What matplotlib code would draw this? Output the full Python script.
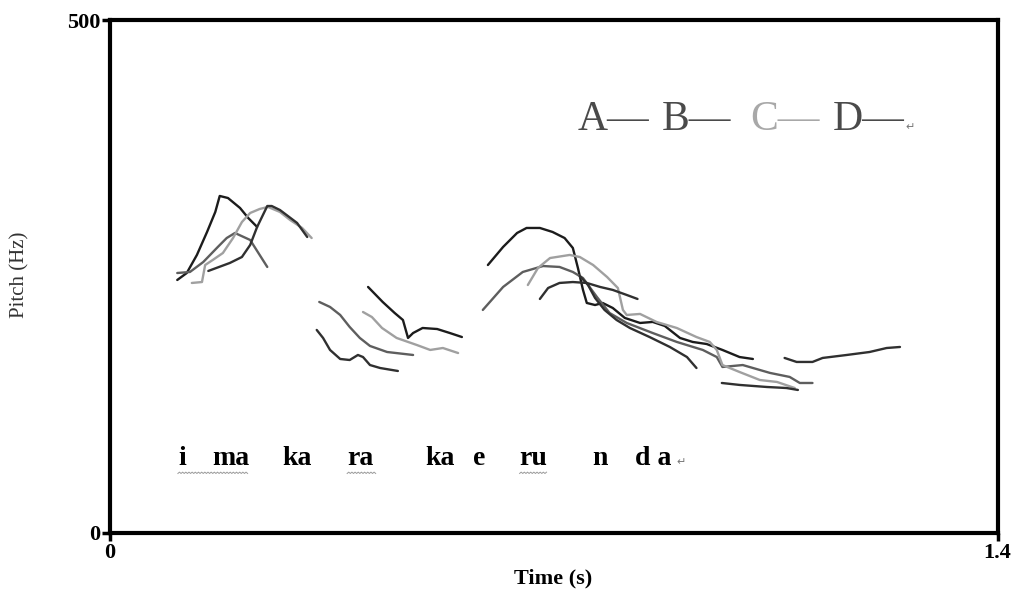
import numpy as np
import matplotlib.pyplot as plt

# pitch tracks, one list of segments per speaker (time in s, pitch in Hz)
a_times = [
    [0.106, 0.121, 0.137, 0.153, 0.166, 0.173, 0.186, 0.205, 0.218, 0.232],
    [0.407, 0.430, 0.449, 0.462, 0.470, 0.478, 0.493, 0.516, 0.536, 0.555],
    [0.596, 0.620, 0.642, 0.657, 0.678, 0.698, 0.717, 0.730, 0.738, 0.746, 0.752,
     0.765, 0.777, 0.793, 0.812, 0.836, 0.856, 0.875, 0.899, 0.919, 0.941, 0.966,
     0.993, 1.014],
]
a_pitch = [
    [246.6, 253.4, 271.0, 293.4, 312.9, 328.5, 326.5, 316.8, 307.0, 298.3],
    [239.8, 225.2, 214.4, 207.6, 190.1, 194.9, 199.8, 198.8, 194.9, 191.0],
    [261.2, 278.8, 292.4, 297.3, 297.3, 293.4, 287.5, 277.8, 258.3, 236.9, 224.2,
     222.2, 224.2, 219.3, 209.6, 204.7, 205.7, 201.8, 190.1, 186.2, 184.2, 178.4,
     171.5, 169.6],
]

b_times = [
    [0.106, 0.126, 0.147, 0.170, 0.184, 0.197, 0.221, 0.233, 0.248],
    [0.330, 0.347, 0.363, 0.378, 0.394, 0.410, 0.437, 0.478],
    [0.588, 0.620, 0.651, 0.683, 0.709, 0.730, 0.746, 0.768, 0.788, 0.815, 0.856,
     0.894, 0.935, 0.957, 0.966, 0.998, 1.041, 1.072, 1.088, 1.108],
]
b_pitch = [
    [253.4, 254.4, 264.1, 278.8, 287.5, 292.4, 285.6, 273.9, 259.3],
    [225.2, 220.3, 212.5, 200.8, 190.1, 182.3, 176.4, 173.5],
    [217.4, 239.8, 254.4, 260.2, 259.3, 254.4, 248.5, 230.0, 214.4, 204.7, 194.9,
     186.2, 178.4, 171.5, 161.8, 163.7, 156.0, 152.1, 146.2, 146.2],
]

c_times = [
    [0.129, 0.145, 0.150, 0.162, 0.178, 0.194, 0.208, 0.221, 0.236, 0.249, 0.268,
     0.284, 0.303, 0.318],
    [0.399, 0.413, 0.429, 0.452, 0.484, 0.505, 0.525, 0.549],
    [0.659, 0.675, 0.694, 0.725, 0.741, 0.762, 0.784, 0.801, 0.809, 0.815, 0.836,
     0.862, 0.894, 0.925, 0.946, 0.957, 0.966, 0.993, 1.025, 1.052, 1.080],
]
c_pitch = [
    [243.7, 244.6, 261.2, 266.1, 272.9, 287.5, 303.1, 311.9, 315.8, 317.8, 312.9,
     305.1, 297.3, 287.5],
    [215.4, 210.5, 199.8, 190.1, 183.2, 178.4, 180.3, 175.4],
    [241.7, 258.3, 268.0, 271.0, 269.0, 261.2, 249.5, 238.8, 217.4, 212.5, 213.5,
     205.7, 199.8, 191.0, 186.2, 178.4, 163.7, 156.9, 149.1, 147.2, 141.3],
]

d_times = [
    [0.155, 0.189, 0.208, 0.221, 0.232, 0.248, 0.255, 0.268, 0.295, 0.311],
    [0.326, 0.336, 0.347, 0.363, 0.378, 0.391, 0.399, 0.410, 0.426, 0.454],
    [0.678, 0.691, 0.709, 0.730, 0.752, 0.773, 0.793, 0.815, 0.832],
    [0.741, 0.754, 0.765, 0.780, 0.799, 0.820, 0.851, 0.883, 0.910, 0.925],
    [0.965, 0.993, 1.036, 1.067, 1.085],
    [1.064, 1.083, 1.108, 1.124, 1.162, 1.198, 1.225, 1.246],
]
d_pitch = [
    [255.4, 263.2, 269.0, 280.7, 298.3, 318.7, 318.7, 314.8, 302.2, 288.5],
    [197.9, 190.1, 178.4, 169.6, 168.6, 173.5, 171.5, 163.7, 160.8, 157.9],
    [228.1, 238.8, 243.7, 244.6, 243.7, 239.8, 236.9, 232.0, 228.1],
    [250.5, 241.7, 229.1, 217.4, 207.6, 199.8, 191.0, 181.3, 171.5, 160.8],
    [146.2, 144.3, 142.3, 141.3, 139.4],
    [170.6, 166.7, 166.7, 170.6, 173.5, 176.4, 180.3, 181.3],
]

speakers = ['A', 'B', 'C', 'D']
colors = ['#1c1c1c', '#5e5e5e', '#a0a0a0', '#303030']
label_colors = ['#4a4a4a', '#4a4a4a', '#a8a8a8', '#4a4a4a']

syllables = ['i', 'ma', 'ka', 'ra', 'ka', 'e', 'ru', 'n', 'd a']
syllable_t = [0.107, 0.161, 0.271, 0.374, 0.497, 0.572, 0.646, 0.761, 0.828]
syllable_f = 66
# spans with the wavy (spell-check) underline
squiggle_spans = [(0.107, 0.218), (0.374, 0.421), (0.646, 0.690)]

serif = ['Liberation Serif', 'DejaVu Serif', 'DejaVu Sans']

fig = plt.figure(figsize=(10.19, 5.92), dpi=100)
ax = fig.add_axes([0.108, 0.0997, 0.871, 0.8665])

all_t = [a_times, b_times, c_times, d_times]
all_f = [a_pitch, b_pitch, c_pitch, d_pitch]
for ts, fs, col in zip(all_t, all_f, colors):
    for t, f in zip(ts, fs):
        ax.plot(t, f, color=col, lw=1.7, solid_capstyle='round')

for s, t in zip(syllables, syllable_t):
    ax.text(t, syllable_f, s, family=serif, fontweight='bold', fontsize=20,
            ha='left', va='baseline')
ax.text(0.893, syllable_f, '\u21b5', family=['DejaVu Sans'], fontsize=8,
        color='#777777', ha='left', va='baseline')

for t0, t1 in squiggle_spans:
    xs = np.arange(t0, t1, 0.0025)
    ys = syllable_f - 8 + 1.3 * (np.arange(len(xs)) % 2)
    ax.plot(xs, ys, color='#9a9a9a', lw=0.7)

# speaker key
key_x = [0.527, 0.622, 0.721, 0.814]
for sp, x, col in zip(speakers, key_x, label_colors):
    ax.text(x, 0.786, sp + '\u2014', transform=ax.transAxes, family=serif,
            fontsize=30, color=col, ha='left', va='baseline')
ax.text(0.896, 0.786, '\u21b5', transform=ax.transAxes, family=['DejaVu Sans'],
        fontsize=8, color='#777777', ha='left', va='baseline')

ax.set_xlim(0, 1.4)
ax.set_ylim(0, 500)
ax.set_xticks([0, 1.4])
ax.set_xticklabels(['0', '1.4'])
ax.set_yticks([0, 500])
ax.set_yticklabels(['0', '500'])
for lab in ax.get_xticklabels() + ax.get_yticklabels():
    lab.set_family(serif)
    lab.set_fontweight('bold')
    lab.set_fontsize(16)
ax.tick_params(direction='out', length=6, width=2.5, pad=1)
for sp in ax.spines.values():
    sp.set_linewidth(3)

fig.text(20 / 1019, 1 - 275 / 592, 'Pitch (Hz)', rotation=90, family=serif,
         fontsize=15, color='#333333', ha='center', va='center')
fig.text(553 / 1019, 1 - 578 / 592, 'Time (s)', family=serif, fontweight='bold',
         fontsize=16, ha='center', va='center')

fig.savefig('out.png', dpi=100)
